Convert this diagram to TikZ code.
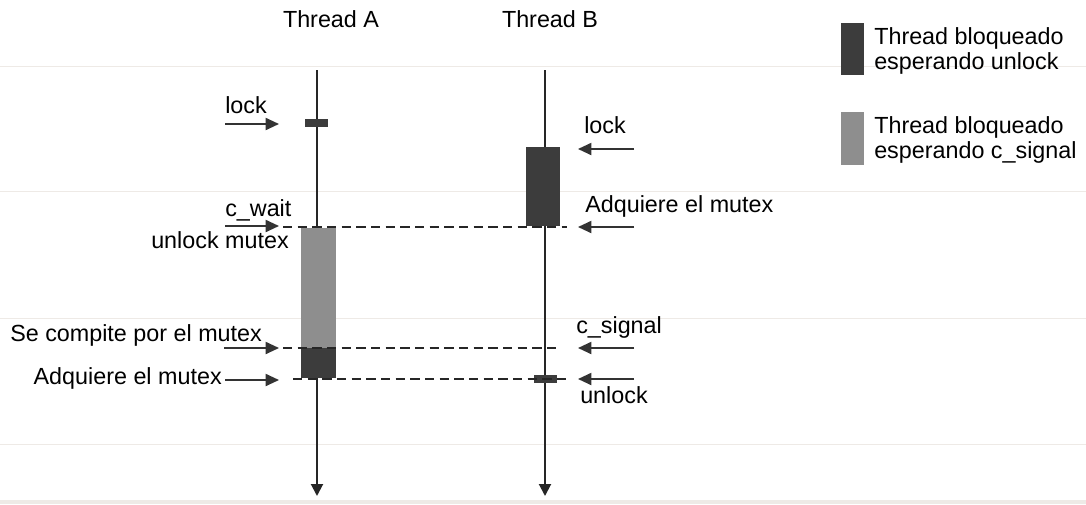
\documentclass[tikz,border=0pt]{standalone}
\usepackage{fontspec}
\setmainfont{Liberation Sans}
\usetikzlibrary{arrows.meta}
\definecolor{darkblk}{HTML}{3C3C3C}
\definecolor{lightblk}{HTML}{8E8E8E}
\definecolor{arrowc}{HTML}{333333}
\definecolor{faint}{HTML}{EEEAE6}
\begin{document}
\begin{tikzpicture}[x=0.75pt,y=-0.75pt,
  lbl/.style={inner sep=0pt,anchor=base west,font=\fontsize{17.5}{21}\selectfont},
  lblr/.style={lbl,anchor=base east},
  thread/.style={line width=1.5pt,black!85,-{Triangle[length=9pt,width=9pt]}},
  darkbox/.style={fill=darkblk,inner sep=0pt,draw=none},
  lightbox/.style={fill=lightblk,inner sep=0pt,draw=none},
  evarrow/.style={line width=1.4pt,arrowc,-{Triangle[length=10pt,width=9pt]}},
  sync/.style={line width=1.8pt,black!85,dash pattern=on 7pt off 4pt},
  bgline/.style={line width=0.6pt,faint}]
\useasboundingbox (0,0) rectangle (1086,504);
\fill[white] (0,0) rectangle (1086,504);
% faint background lines
\coordinate (g1a) at (0,66); \coordinate (g1b) at (1086,66);
\coordinate (g2a) at (0,191); \coordinate (g2b) at (1086,191);
\coordinate (g3a) at (0,318); \coordinate (g3b) at (1086,318);
\coordinate (g4a) at (0,444); \coordinate (g4b) at (1086,444);
\draw[bgline] (g1a) -- (g1b);
\draw[bgline] (g2a) -- (g2b);
\draw[bgline] (g3a) -- (g3b);
\draw[bgline] (g4a) -- (g4b);
\fill[faint] (0,500) rectangle (1086,504);
% titles
\node[inner sep=0pt,anchor=base,font=\fontsize{17.5}{21}\selectfont] (tA) at (331,27) {Thread A};
\node[inner sep=0pt,anchor=base,font=\fontsize{17.5}{21}\selectfont] (tB) at (550,27) {Thread B};
% thread lines
\coordinate (Atop) at (317,70); \coordinate (Abot) at (317,496);
\coordinate (Btop) at (545,70); \coordinate (Bbot) at (545,496);
\draw[thread] (Atop) -- (Abot);
\draw[thread] (Btop) -- (Bbot);
% boxes
\node[darkbox,minimum width=17.25pt,minimum height=6pt] (Alock) at (316.5,123) {};
\node[darkbox,minimum width=25.5pt,minimum height=59.25pt] (Bwait) at (543,186.5) {};
\node[lightbox,minimum width=26.25pt,minimum height=90pt] (Acond) at (318.5,288) {};
\node[darkbox,minimum width=26.25pt,minimum height=22.5pt] (Amut) at (318.5,363) {};
\node[darkbox,minimum width=17.25pt,minimum height=6pt] (Bunl) at (545.5,379) {};
% sync dashed lines
\coordinate (d1a) at (283,227); \coordinate (d1b) at (567,227);
\coordinate (d2a) at (283,348); \coordinate (d2b) at (557,348);
\coordinate (d3a) at (293,379); \coordinate (d3b) at (567,379);
\draw[sync] (d1a) -- (d1b);
\draw[sync] (d2a) -- (d2b);
\draw[sync] (d3a) -- (d3b);
% left events
\coordinate (l1a) at (225,124); \coordinate (l1b) at (279,124);
\coordinate (l2a) at (225,226); \coordinate (l2b) at (279,226);
\coordinate (l3a) at (224,348); \coordinate (l3b) at (279,348);
\coordinate (l4a) at (225,380); \coordinate (l4b) at (279,380);
\draw[evarrow] (l1a) -- (l1b);
\draw[evarrow] (l2a) -- (l2b);
\draw[evarrow] (l3a) -- (l3b);
\draw[evarrow] (l4a) -- (l4b);
\node[lbl] (tlock) at (225,113) {lock};
\node[lbl] (tcwait) at (225,216) {c\_wait};
\node[lblr] (tunlm) at (289,248) {unlock mutex};
\node[lbl] (tcomp) at (10,341) {Se compite por el mutex};
\node[lblr] (tadqA) at (222,384) {Adquiere el mutex};
% right events
\coordinate (r1a) at (634,149); \coordinate (r1b) at (578,149);
\coordinate (r2a) at (634,227); \coordinate (r2b) at (578,227);
\coordinate (r3a) at (634,348); \coordinate (r3b) at (578,348);
\coordinate (r4a) at (634,379); \coordinate (r4b) at (578,379);
\draw[evarrow] (r1a) -- (r1b);
\draw[evarrow] (r2a) -- (r2b);
\draw[evarrow] (r3a) -- (r3b);
\draw[evarrow] (r4a) -- (r4b);
\node[lbl] (tlockB) at (584,133) {lock};
\node[lbl] (tadqB) at (585,212) {Adquiere el mutex};
\node[lbl] (tcsig) at (576,333) {c\_signal};
\node[lbl] (tunlB) at (580,403) {unlock};
% legend
\node[darkbox,minimum width=17.25pt,minimum height=39pt] (legD) at (852.5,49) {};
\node[lightbox,minimum width=17.25pt,minimum height=39.75pt] (legL) at (852.5,138.5) {};
\node[lbl] (legD1) at (874,44) {Thread bloqueado};
\node[lbl] (legD2) at (874,69) {esperando unlock};
\node[lbl] (legL1) at (874,133) {Thread bloqueado};
\node[lbl] (legL2) at (874,158) {esperando c\_signal};
\end{tikzpicture}
\end{document}
